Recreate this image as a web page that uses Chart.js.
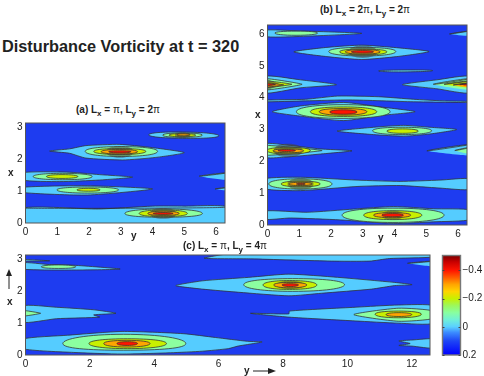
<!DOCTYPE html>
<html lang="en">
<head>
<meta charset="UTF-8">
<title>Disturbance Vorticity at t = 320</title>
<script src="https://cdn.jsdelivr.net/npm/chart.js"></script>
<style>
  html, body { margin: 0; padding: 0; background: #fff; }
  body { width: 484px; height: 376px; position: relative; overflow: hidden; font-family: "Liberation Sans", sans-serif; color: #222; }
  canvas { position: absolute; }
  .t { position: absolute; font-weight: bold; font-size: 10px; line-height: 12px; white-space: nowrap; }
  .t sub { font-size: 8px; line-height: 0; vertical-align: -3px; }
  .t i { font-style: normal; font-weight: normal; }
  svg { position: absolute; }
</style>
</head>
<body>
<canvas id="chartA"></canvas>
<canvas id="chartB"></canvas>
<canvas id="chartC"></canvas>
<canvas id="chartBar"></canvas>
<div class="t" style="left:2px;top:36px;font-size:16.3px;line-height:20px">Disturbance Vorticity at t = 320</div>
<div class="t" style="left:76px;top:104px">(a) L<sub>x</sub> = <i>π</i>, L<sub>y</sub> = 2<i>π</i></div>
<div class="t" style="left:320px;top:4px">(b) L<sub>x</sub> = 2<i>π</i>, L<sub>y</sub> = 2<i>π</i></div>
<div class="t" style="left:183px;top:240px">(c) L<sub>x</sub> = <i>π</i>, L<sub>y</sub> = 4<i>π</i></div>
<div class="t" style="left:131px;top:230px">y</div>
<div class="t" style="left:8px;top:167px">x</div>
<div class="t" style="left:378px;top:232px">y</div>
<div class="t" style="left:255px;top:109px">x</div>
<div class="t" style="left:7px;top:296px">x</div>
<div class="t" style="left:244px;top:365px">y</div>
<svg style="left:4px;top:268px" width="10" height="22"><line x1="5" y1="21" x2="5" y2="6" stroke="#222"/><path d="M5 1 L8 8 L2 8 Z" fill="#222"/></svg>
<svg style="left:252px;top:366px" width="26" height="10"><line x1="1" y1="5" x2="18" y2="5" stroke="#222"/><path d="M24 5 L16 2 L16 8 Z" fill="#222"/></svg>
<script>
// tick labels
const ticksA = { y: [0, 1, 2, 3, 4, 5, 6], x: [0, 1, 2, 3] };
const ticksB = { y: [0, 1, 2, 3, 4, 5, 6], x: [0, 1, 2, 3, 4, 5, 6] };
const ticksC = { y: [0, 2, 4, 6, 8, 10, 12], x: [0, 1, 2, 3] };
const barTicks = [-0.4, -0.2, 0, 0.2];
const barTickLabels = ['\u22120.4', '\u22120.2', '0', '0.2'];

// colour bar
const barValues = [-0.505, -0.46, -0.4, -0.35, -0.3, -0.25, -0.2, -0.15, -0.1, -0.05, 0, 0.04, 0.1, 0.2];
const barColors = ['#7a0000', '#c80000', '#ff1400', '#ff5a00', '#ffa500', '#ffd400', '#c8f000', '#9cf85c', '#88ffa0', '#70f0d8', '#5ad0ff', '#3c8cff', '#1e46f5', '#0000ff'];

// contour colours, lowest level first; the fourth is the crowded lines round the peaks
const levelColors = ['#55ccff', '#8cffa0', '#c8f000', 'rgba(70,70,62,0.55)', '#ffa500', '#ff1400'];
const crowdedLevel = 3;

// panel (a): contours as [y, x] outlines, by level
const aLight = [
  [[-0.1, -0.1], [-0.1, 0.47], [2.3, 0.44], [4, 0.53], [5, 0.53], [6.4, 0.5], [6.4, -0.1]],
  [[0.76, 2.26], [1.39, 2.33], [1.9, 2.43], [2.96, 2.47], [3.9, 2.38], [5.0, 2.21], [4.1, 2.06], [3.06, 1.98], [1.9, 2.04], [1.39, 2.19]],
  [[-0.1, 1.58], [1.28, 1.6], [2.33, 1.52], [3.37, 1.44], [2.33, 1.35], [1.08, 1.3], [-0.1, 1.35]],
  [[5.47, 1.47], [6.4, 1.58], [6.4, 1.35]],
  [[-0.1, 1.12], [1.96, 1.17], [4.0, 1.07], [1.96, 0.88], [-0.1, 0.96]],
  [[5.97, 1.07], [6.4, 1.12], [6.4, 1.02]],
  [[3.88, 2.77], [4.94, 2.86], [6.09, 2.74], [4.94, 2.66]]
];
const aGreen = [
  [[4.35, 0.44], [5.57, 0.3], [4.35, 0.18], [3.13, 0.3]],
  [[3.02, 2.4], [4.16, 2.25], [3.02, 2.09], [1.88, 2.25]],
  [[1.17, 1.56], [2.1, 1.46], [1.17, 1.36], [0.24, 1.46]],
  [[1.96, 1.13], [2.93, 1.04], [1.96, 0.94], [0.99, 1.04]],
  [[4.94, 2.83], [5.57, 2.76], [4.94, 2.69], [4.32, 2.76]]
];
const aYellow = [
  [[4.34, 0.41], [5.1, 0.3], [4.34, 0.2], [3.58, 0.3]],
  [[2.97, 2.34], [3.79, 2.25], [2.97, 2.15], [2.15, 2.25]],
  [[1.15, 1.52], [1.65, 1.46], [1.15, 1.4], [0.66, 1.46]],
  [[1.98, 1.09], [2.35, 1.04], [1.98, 1.0], [1.62, 1.04]],
  [[4.94, 2.81], [5.36, 2.76], [4.94, 2.71], [4.52, 2.76]]
];
const aCrowded = [
  [[4.33, 0.47], [4.75, 0.3], [4.33, 0.13], [3.92, 0.3]],
  [[2.97, 2.42], [3.4, 2.24], [2.97, 2.05], [2.55, 2.24]],
  [[4.95, 2.85], [5.2, 2.77], [4.95, 2.68], [4.7, 2.77]]
];
const aOrange = [
  [[4.34, 0.37], [4.84, 0.3], [4.34, 0.24], [3.85, 0.3]],
  [[2.95, 2.31], [3.53, 2.24], [2.95, 2.17], [2.38, 2.24]],
  [[4.97, 2.8], [5.17, 2.77], [4.97, 2.74], [4.77, 2.77]]
];
const aRed = [
  [[4.33, 0.33], [4.65, 0.3], [4.33, 0.27], [4.02, 0.3]],
  [[2.97, 2.27], [3.32, 2.24], [2.97, 2.2], [2.62, 2.24]]
];

// panel (b)
const bLight = [
  [[-0.1, 6.12], [0.93, 6.1], [2.97, 6.02], [0.93, 5.92], [-0.1, 5.92]],
  [[5.73, 6.0], [6.4, 6.1], [6.4, 5.94]],
  [[0.83, 5.44], [1.87, 5.58], [2.97, 5.65], [4.07, 5.57], [5.09, 5.45], [4.07, 5.29], [2.97, 5.2], [1.87, 5.29]],
  [[3.5, 4.84], [4.3, 4.87], [5.2, 4.85], [4.3, 4.81]],
  [[-0.1, 4.67], [1.04, 4.56], [2.17, 4.41], [1.04, 4.31], [-0.1, 4.15]],
  [[4.25, 4.41], [5.33, 4.56], [6.4, 4.67], [6.4, 4.15], [5.33, 4.28]],
  [[-0.1, 3.92], [1.2, 3.95], [2.2, 4.05], [3.5, 4.03], [4.6, 3.95], [5.5, 3.9], [6.4, 3.88], [6.4, 3.85], [4.6, 3.87], [2.6, 3.93], [1.2, 3.9], [-0.1, 3.87]],
  [[0.15, 3.56], [1.04, 3.74], [2.4, 3.85], [3.55, 3.71], [4.65, 3.56], [3.55, 3.44], [2.4, 3.28], [1.04, 3.42]],
  [[2.19, 2.95], [3.34, 3.07], [4.28, 3.13], [5.12, 3.07], [5.96, 3.0], [5.12, 2.86], [4.28, 2.79], [3.34, 2.84]],
  [[-0.1, 2.55], [0.72, 2.5], [1.67, 2.39], [2.66, 2.33], [1.67, 2.23], [0.51, 2.13], [-0.1, 2.13]],
  [[5.02, 2.33], [6.4, 2.53], [6.4, 2.18]],
  [[-0.1, 1.45], [1.04, 1.5], [2.82, 1.41], [4.18, 1.37], [5.43, 1.41], [6.4, 1.45], [6.4, 1.12], [5.43, 1.16], [4.18, 1.24], [2.82, 1.21], [1.04, 1.08], [-0.1, 1.14]],
  [[-0.1, 0.44], [1.25, 0.4], [2.71, 0.5], [3.97, 0.58], [5.23, 0.51], [6.4, 0.47], [6.4, 0.17], [5.23, 0.1], [3.97, 0.05], [2.29, 0.16], [0.72, 0.22], [-0.1, 0.18]]
];
const bGreen = [
  [[0.9, 6.09], [1.58, 6.03], [0.9, 5.96], [0.23, 6.03]],
  [[3.0, 5.58], [4.04, 5.45], [3.0, 5.31], [1.93, 5.45]],
  [[-0.1, 4.6], [1.09, 4.42], [-0.1, 4.24]],
  [[5.22, 4.42], [6.4, 4.6], [6.4, 4.24]],
  [[2.38, 3.78], [3.86, 3.56], [2.38, 3.35], [0.91, 3.56]],
  [[4.24, 3.07], [5.17, 2.96], [4.24, 2.84], [3.31, 2.96]],
  [[-0.1, 2.5], [1.72, 2.34], [-0.1, 2.19]],
  [[5.9, 2.34], [6.4, 2.44], [6.4, 2.23]],
  [[1.03, 1.45], [2.03, 1.29], [1.03, 1.13], [0.04, 1.29]],
  [[3.95, 0.53], [5.56, 0.31], [3.95, 0.08], [2.35, 0.31]]
];
const bYellow = [
  [[3.0, 5.53], [3.76, 5.44], [3.0, 5.34], [2.27, 5.44]],
  [[-0.1, 4.53], [0.77, 4.42], [-0.1, 4.31]],
  [[5.56, 4.42], [6.4, 4.53], [6.4, 4.31]],
  [[2.4, 3.71], [3.44, 3.56], [2.4, 3.41], [1.35, 3.56]],
  [[4.25, 3.02], [4.75, 2.95], [4.25, 2.88], [3.76, 2.95]],
  [[0.65, 2.44], [1.35, 2.34], [0.65, 2.23], [-0.02, 2.34]],
  [[1.04, 1.38], [1.66, 1.29], [1.04, 1.2], [0.43, 1.29]],
  [[3.95, 0.45], [4.86, 0.31], [3.95, 0.17], [3.03, 0.31]]
];
const bCrowded = [
  [[3.0, 5.64], [3.45, 5.44], [3.0, 5.25], [2.55, 5.44]],
  [[0.65, 2.55], [1.1, 2.34], [0.65, 2.13], [0.2, 2.34]],
  [[1.04, 1.47], [1.45, 1.29], [1.04, 1.11], [0.63, 1.29]],
  [[-0.1, 4.6], [0.4, 4.41], [-0.1, 4.22]],
  [[3.94, 0.45], [4.3, 0.31], [3.94, 0.17], [3.58, 0.31]]
];
const bOrange = [
  [[3.0, 5.51], [3.55, 5.44], [3.0, 5.37], [2.45, 5.44]],
  [[-0.1, 4.47], [0.51, 4.4], [-0.1, 4.33]],
  [[5.85, 4.4], [6.4, 4.47], [6.4, 4.33]],
  [[2.38, 3.66], [3.13, 3.56], [2.38, 3.45], [1.63, 3.56]],
  [[0.66, 2.39], [1.14, 2.33], [0.66, 2.27], [0.17, 2.33]],
  [[1.03, 1.34], [1.4, 1.29], [1.03, 1.24], [0.67, 1.29]],
  [[3.93, 0.39], [4.51, 0.31], [3.93, 0.23], [3.34, 0.31]]
];
const bRed = [
  [[3.0, 5.48], [3.34, 5.44], [3.0, 5.4], [2.64, 5.44]],
  [[-0.1, 4.45], [0.25, 4.41], [-0.1, 4.37]],
  [[6.06, 4.41], [6.4, 4.45], [6.4, 4.37]],
  [[2.39, 3.62], [2.82, 3.55], [2.39, 3.48], [1.96, 3.55]],
  [[0.6, 2.37], [0.88, 2.34], [0.6, 2.31], [0.33, 2.34]],
  [[1.05, 1.31], [1.19, 1.29], [1.05, 1.27], [0.91, 1.29]],
  [[3.94, 0.36], [4.28, 0.31], [3.94, 0.26], [3.6, 0.31]]
];

// panel (c)
const cLight = [
  [[-0.1, 0.5], [1.3, 0.62], [3, 0.74], [4.9, 0.67], [5.9, 0.55], [6.9, 0.43], [7.35, 0.41], [6.9, 0.33], [6.6, 0.28], [6.3, 0.2], [5.5, 0.12], [4.5, 0.07], [3, 0.03], [1.5, 0.08], [-0.1, 0.2]],
  [[-0.1, 1.54], [0.96, 1.5], [2.12, 1.42], [2.81, 1.31], [2.12, 1.26], [2.3, 1.19], [0.96, 1.14], [-0.1, 1.03]],
  [[-0.1, 2.9], [0.75, 2.84], [1.5, 2.82], [2.94, 2.7], [1.58, 2.67], [-0.1, 2.7]],
  [[-0.1, 3.0], [0.75, 2.96], [-0.1, 2.95]],
  [[4.67, 2.18], [5.5, 2.33], [6.94, 2.44], [8.18, 2.54], [9.7, 2.44], [11.47, 2.28], [12.01, 2.21], [11.47, 2.18], [10.75, 2.07], [9.2, 1.94], [8.18, 1.86], [6.63, 1.97], [5.5, 2.07]],
  [[6.99, 1.31], [8.18, 1.29], [8.2, 1.38], [10.24, 1.5], [11.58, 1.57], [12.7, 1.54], [12.7, 1.0], [11.58, 1.0], [10.24, 1.07], [8.18, 1.19]],
  [[5.55, 3.04], [6.5, 3.2], [12.7, 3.2], [12.7, 3.08], [11.3, 3.03], [10.7, 2.95], [9.5, 2.95], [7, 3.02]],
  [[11.87, 2.88], [12.7, 2.95], [12.7, 2.78]],
  [[11.6, 0.44], [12.0, 0.47], [12.7, 0.5], [12.7, 0.22], [12.0, 0.28], [11.6, 0.3], [11.95, 0.36]]
];
const cGreen = [
  [[3.05, 0.65], [4.98, 0.36], [3.05, 0.15], [1.16, 0.36]],
  [[-0.1, 1.4], [0.47, 1.31], [-0.1, 1.22]],
  [[1.02, 2.83], [1.56, 2.77], [1.02, 2.72], [0.49, 2.77]],
  [[8.3, 2.4], [9.91, 2.21], [8.3, 2.0], [6.78, 2.21]],
  [[11.58, 1.47], [12.7, 1.38], [12.7, 1.15], [11.58, 1.06], [10.2, 1.27]]
];
const cYellow = [
  [[3.17, 0.51], [4.38, 0.36], [3.17, 0.2], [1.97, 0.36]],
  [[8.2, 2.34], [9.05, 2.2], [8.2, 2.06], [7.38, 2.2]],
  [[11.58, 1.38], [12.3, 1.28], [11.58, 1.17], [10.86, 1.28]]
];
const cCrowded = [
  [[8.22, 2.33], [8.65, 2.2], [8.22, 2.07], [7.8, 2.2]]
];
const cOrange = [
  [[3.15, 0.46], [3.87, 0.36], [3.15, 0.25], [2.43, 0.36]],
  [[8.22, 2.28], [8.74, 2.2], [8.22, 2.11], [7.71, 2.2]],
  [[11.6, 1.33], [12, 1.27], [11.6, 1.21], [11.2, 1.27]]
];
const cRed = [
  [[3.16, 0.42], [3.48, 0.36], [3.16, 0.3], [2.84, 0.36]],
  [[8.22, 2.24], [8.48, 2.2], [8.22, 2.15], [7.97, 2.2]]
];

const TWO_PI = 2 * Math.PI;
const font = { family: '"Liberation Sans", sans-serif', size: 10 };
const blue = '#1e3cf0';

// plot frame and blue floor of each panel
const framePlugin = {
  id: 'frame',
  beforeDraw(chart) {
    const a = chart.chartArea, c = chart.ctx;
    if (chart.canvas.id !== 'chartBar') {
      c.fillStyle = blue;
      c.fillRect(a.left, a.top, a.width, a.height);
    }
  },
  afterDraw(chart) {
    const a = chart.chartArea, c = chart.ctx;
    const isBar = chart.canvas.id === 'chartBar';
    c.strokeStyle = isBar ? '#777' : '#555';
    c.lineWidth = isBar ? 1.4 : 1;
    c.strokeRect(a.left, a.top, a.width, a.height);
    if (isBar) {
      c.strokeStyle = '#444';
      c.lineWidth = 1;
      chart.scales.y.ticks.forEach(t => {
        const py = Math.round(chart.scales.y.getPixelForValue(t.value)) + 0.5;
        c.beginPath();
        c.moveTo(a.left, py); c.lineTo(a.left + 2, py);
        c.moveTo(a.right - 2, py); c.lineTo(a.right, py);
        c.stroke();
      });
    }
  }
};

// contours are closed curves, so the spline must run on past the first point
const closeContours = {
  id: 'closeContours',
  afterDatasetsUpdate(chart) {
    chart.getSortedVisibleDatasetMetas().forEach(meta => {
      const line = meta.dataset;
      line._loop = true;
      line._fullLoop = true;
      line._segments = undefined;
      line._pointsUpdated = false;
      line._path = undefined;
    });
  }
};

// tick labels may overhang, the plot box must stay where it is put
function noPadding(s) {
  s.paddingLeft = s.paddingRight = s.paddingTop = s.paddingBottom = 0;
}

function contourSets(levels) {
  const sets = [];
  levels.forEach((contours, level) => {
    contours.forEach(outline => {
      // lens with 4 points, wedge against an edge with 3, traced outline with more
      let tension = 0.2;
      if (outline.length === 4) tension = 0.6;
      if (outline.length === 3) tension = 0.12;
      sets.push({
        data: outline.map(p => ({ x: p[0], y: p[1] })),
        backgroundColor: levelColors[level],
        borderColor: level === crowdedLevel ? 'rgba(0,0,0,0)' : 'rgba(50,50,50,0.85)',
        borderWidth: 0.9,
        fill: 'shape',
        tension,
        pointRadius: 0,
        order: -sets.length
      });
    });
  });
  return sets;
}

function panel(id, box, levels, ticks, yMax, xMax) {
  const el = document.getElementById(id);
  const padTop = 3, padRight = 6, bottom = 18, leftW = 25.5;
  el.width = box.w + leftW + padRight;
  el.height = box.h + padTop + bottom;
  el.style.left = (box.l - leftW) + 'px';
  el.style.top = (box.t - padTop) + 'px';
  el.style.width = el.width + 'px';
  el.style.height = el.height + 'px';
  new Chart(el, {
    type: 'line',
    data: { datasets: contourSets(levels) },
    plugins: [framePlugin, closeContours],
    options: {
      responsive: false,
      animation: false,
      layout: { padding: { top: padTop, right: padRight, left: 0, bottom: 0 } },
      plugins: { legend: { display: false }, tooltip: { enabled: false }, title: { display: false } },
      scales: {
        x: {
          type: 'linear', min: 0, max: yMax,
          grid: { display: false, drawTicks: false }, border: { display: false },
          afterBuildTicks: s => { s.ticks = ticks.y.map(v => ({ value: v })); },
          afterFit: s => { s.height = bottom; noPadding(s); },
          ticks: { font, color: '#222', padding: 3, maxRotation: 0, autoSkip: false, callback: v => String(v) }
        },
        y: {
          type: 'linear', min: 0, max: xMax,
          grid: { display: false, drawTicks: false }, border: { display: false },
          afterBuildTicks: s => { s.ticks = ticks.x.map(v => ({ value: v })); },
          afterFit: s => { s.width = leftW; noPadding(s); },
          ticks: { font, color: '#222', padding: 3, autoSkip: false, callback: v => String(v) }
        }
      }
    }
  });
}

panel('chartA', { l: 25.5, t: 122.5, w: 200, h: 100 }, [aLight, aGreen, aYellow, aCrowded, aOrange, aRed], ticksA, TWO_PI, Math.PI);
panel('chartB', { l: 267.5, t: 24.5, w: 200, h: 200 }, [bLight, bGreen, bYellow, bCrowded, bOrange, bRed], ticksB, TWO_PI, TWO_PI);
panel('chartC', { l: 25.5, t: 254.5, w: 405, h: 100 }, [cLight, cGreen, cYellow, cCrowded, cOrange, cRed], ticksC, 4 * Math.PI, Math.PI);

// colour bar
const barEl = document.getElementById('chartBar');
barEl.width = 46; barEl.height = 110;
barEl.style.left = '438px'; barEl.style.top = '250px';
barEl.style.width = '46px'; barEl.style.height = '110px';
new Chart(barEl, {
  type: 'bar',
  data: {
    labels: ['level'],
    datasets: [{
      data: [[barValues[barValues.length - 1], barValues[0]]],
      barPercentage: 1,
      categoryPercentage: 1,
      backgroundColor(ctx) {
        const a = ctx.chart.chartArea;
        if (!a) return '#0000ff';
        const s = ctx.chart.scales.y;
        const g = ctx.chart.ctx.createLinearGradient(0, a.top, 0, a.bottom);
        barValues.forEach((v, i) => {
          g.addColorStop((s.getPixelForValue(v) - a.top) / a.height, barColors[i]);
        });
        return g;
      }
    }]
  },
  plugins: [framePlugin],
  options: {
    responsive: false,
    animation: false,
    layout: { padding: { left: 4.5, top: 5.5, right: 0, bottom: 5 } },
    plugins: { legend: { display: false }, tooltip: { enabled: false } },
    scales: {
      x: { display: false },
      y: {
        position: 'right', reverse: true, min: barValues[0], max: barValues[barValues.length - 1],
        grid: { display: false, drawTicks: false }, border: { display: false },
        afterBuildTicks: s => { s.ticks = barTicks.map(v => ({ value: v })); },
        afterFit: s => { s.width = 23.5; noPadding(s); },
        ticks: {
          font, color: '#222', padding: 2, autoSkip: false,
          callback: v => barTickLabels[barTicks.indexOf(v)]
        }
      }
    }
  }
});
</script>
</body>
</html>
